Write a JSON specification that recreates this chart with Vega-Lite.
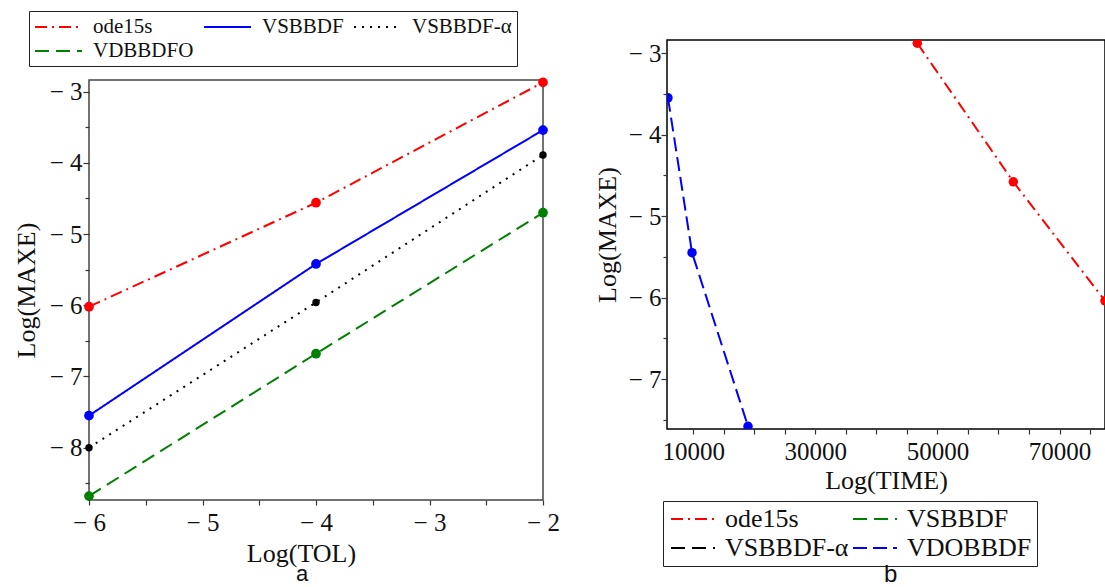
{
  "$schema": "https://vega.github.io/schema/vega-lite/v6.json",
  "background": "white",
  "padding": {"left": 12, "top": 10, "right": 0, "bottom": 0},
  "spacing": 32,
  "config": {
    "font": "Liberation Serif",
    "view": {"stroke": "#444", "strokeWidth": 1.5},
    "axis": {
      "labelFont": "Liberation Serif", "titleFont": "Liberation Serif",
      "labelFontSize": 25, "titleFontSize": 26, "titleFontWeight": "normal",
      "labelColor": "#111", "titleColor": "#111", "domain": false, "grid": false,
      "tickColor": "#333", "tickWidth": 1.2, "labelOverlap": false, "labelFlush": false
    },
    "legend": {
      "orient": "none", "direction": "horizontal", "title": null, "symbolStrokeWidth": 2,
      "labelFont": "Liberation Serif", "labelColor": "#111", "rowPadding": 3, "padding": 5,
      "strokeColor": "#222", "fillColor": "white", "symbolSize": 400
    },
    "title": {"font": "Liberation Sans", "fontSize": 24, "fontWeight": "normal", "color": "#111"}
  },
  "resolve": {"scale": {"color": "independent", "strokeDash": "independent", "fill": "independent", "x": "independent", "y": "independent"}},
  "datasets": {
    "tolData": [
      {"tol": -6, "maxe": -6.02, "method": "ode15s"},
      {"tol": -4, "maxe": -4.56, "method": "ode15s"},
      {"tol": -2, "maxe": -2.87, "method": "ode15s"},
      {"tol": -6, "maxe": -7.55, "method": "VSBBDF"},
      {"tol": -4, "maxe": -5.42, "method": "VSBBDF"},
      {"tol": -2, "maxe": -3.54, "method": "VSBBDF"},
      {"tol": -6, "maxe": -8.0, "method": "VSBBDF-α"},
      {"tol": -4, "maxe": -5.96, "method": "VSBBDF-α"},
      {"tol": -2, "maxe": -3.89, "method": "VSBBDF-α"},
      {"tol": -6, "maxe": -8.68, "method": "VDBBDFO"},
      {"tol": -4, "maxe": -6.68, "method": "VDBBDFO"},
      {"tol": -2, "maxe": -4.70, "method": "VDBBDFO"}
    ],
    "timeData": [
      {"time": 46700, "err": -2.88, "solver": "ode15s"},
      {"time": 62430, "err": -4.58, "solver": "ode15s"},
      {"time": 77450, "err": -6.04, "solver": "ode15s"},
      {"time": 5860, "err": -3.55, "solver": "VDOBBDF"},
      {"time": 9800, "err": -5.45, "solver": "VDOBBDF"},
      {"time": 18970, "err": -7.58, "solver": "VDOBBDF"}
    ]
  },
  "hconcat": [
    {
      "spacing": 9,
      "resolve": {"scale": {"color": "independent", "strokeDash": "independent", "fill": "independent", "x": "independent", "y": "independent"}},
      "vconcat": [
        {
          "width": 454,
          "height": 1,
          "view": {"stroke": null},
          "data": {"name": "tolData"},
          "transform": [{"filter": "false"}],
          "mark": {"type": "line", "strokeWidth": 2},
          "encoding": {
            "x": {"field": "tol", "type": "quantitative", "axis": null, "scale": {"domain": [-6, -2]}},
            "y": {"field": "maxe", "type": "quantitative", "axis": null, "scale": {"domain": [-9, -2]}},
            "color": {"field": "method", "type": "nominal",
              "scale": {"domain": ["ode15s", "VSBBDF", "VSBBDF-α", "VDBBDFO"], "range": ["#ff0000", "#0000ff", "#000000", "#008000"]},
              "legend": {"legendX": -60, "legendY": -29, "columns": 3, "symbolType": "M-2.35,0H2.35", "symbolOffset": 13.5,
                "labelFontSize": 21, "labelOffset": 23.5, "columnPadding": 6}},
            "strokeDash": {"field": "method", "type": "nominal",
              "scale": {"domain": ["ode15s", "VSBBDF", "VSBBDF-α", "VDBBDFO"], "range": [[12, 5, 2, 5], [1, 0], [2, 6], [14, 7]]},
              "legend": {"legendX": -60, "legendY": -29, "columns": 3, "symbolType": "M-2.35,0H2.35", "symbolOffset": 13.5,
                "labelFontSize": 21, "labelOffset": 23.5, "columnPadding": 6}}
          }
        },
        {
          "width": 454,
          "height": 420,
          "title": {"text": "a", "orient": "bottom", "frame": "group", "anchor": "middle", "dx": -14, "offset": -2, "fontSize": 22},
          "data": {"name": "tolData"},
          "encoding": {
            "x": {"field": "tol", "type": "quantitative",
              "scale": {"domain": [-6, -2], "nice": false, "zero": false},
              "axis": {"title": "Log(TOL)", "values": [-6, -5.5, -5, -4.5, -4, -3.5, -3, -2.5, -2],
                "labelExpr": "datum.value % 1 === 0 ? '− ' + abs(datum.value) : ''",
                "tickSize": 5, "labelPadding": 5, "titlePadding": 5, "titleX": 212}},
            "y": {"field": "maxe", "type": "quantitative",
              "scale": {"domain": [-8.735, -2.836], "nice": false, "zero": false},
              "axis": {"title": "Log(MAXE)", "values": [-8.5, -8, -7.5, -7, -6.5, -6, -5.5, -5, -4.5, -4, -3.5, -3],
                "labelExpr": "datum.value % 1 === 0 ? '− ' + abs(datum.value) : ''",
                "tickSize": {"condition": {"test": "datum.value % 1 === 0", "value": 6}, "value": 4},
                "labelPadding": 1, "titlePadding": 10}}
          },
          "layer": [
            {
              "mark": {"type": "line", "strokeWidth": 2},
              "encoding": {
                "color": {"field": "method", "type": "nominal",
                  "scale": {"domain": ["ode15s", "VSBBDF", "VSBBDF-α", "VDBBDFO"], "range": ["#ff0000", "#0000ff", "#000000", "#008000"]},
                  "legend": null},
                "strokeDash": {"field": "method", "type": "nominal",
                  "scale": {"domain": ["ode15s", "VSBBDF", "VSBBDF-α", "VDBBDFO"], "range": [[12, 5, 2, 5], [1, 0], [2, 6], [14, 7]]},
                  "legend": null}
              }
            },
            {
              "transform": [{"filter": "datum.method !== 'VSBBDF-α'"}],
              "mark": {"type": "point", "filled": true, "opacity": 1, "size": 95},
              "encoding": {
                "fill": {"field": "method", "type": "nominal",
                  "scale": {"domain": ["ode15s", "VSBBDF", "VSBBDF-α", "VDBBDFO"], "range": ["#ff0000", "#0000ff", "#000000", "#008000"]},
                  "legend": null}
              }
            },
            {
              "transform": [{"filter": "datum.method === 'VSBBDF-α'"}],
              "mark": {"type": "point", "filled": true, "opacity": 1, "size": 55},
              "encoding": {
                "fill": {"field": "method", "type": "nominal",
                  "scale": {"domain": ["ode15s", "VSBBDF", "VSBBDF-α", "VDBBDFO"], "range": ["#ff0000", "#0000ff", "#000000", "#008000"]},
                  "legend": null}
              }
            }
          ]
        }
      ]
    },
    {
      "title": {"text": "b", "orient": "bottom", "frame": "bounds", "anchor": "middle", "dx": 41, "offset": -4},
      "vconcat": [
        {
          "width": 438,
          "height": 389,
          "view": {"stroke": "#000"},
          "data": {"name": "timeData"},
          "encoding": {
            "x": {"field": "time", "type": "quantitative",
              "scale": {"domain": [5700, 77450], "nice": false, "zero": false},
              "axis": {"title": "Log(TIME)", "values": [10000, 15000, 20000, 25000, 30000, 35000, 40000, 45000, 50000, 55000, 60000, 65000, 70000, 75000],
                "labelExpr": "(datum.value - 10000) % 20000 === 0 ? format(datum.value, 'd') : ''",
                "tickSize": 5, "labelPadding": 5, "titlePadding": 3}},
            "y": {"field": "err", "type": "quantitative",
              "scale": {"domain": [-7.613, -2.84], "nice": false, "zero": false},
              "axis": {"title": "Log(MAXE)", "values": [-7.5, -7, -6.5, -6, -5.5, -5, -4.5, -4, -3.5, -3],
                "labelExpr": "datum.value % 1 === 0 ? '− ' + abs(datum.value) : ''",
                "tickSize": {"condition": {"test": "datum.value % 1 === 0", "value": 6}, "value": 4},
                "labelPadding": 0, "titlePadding": 8}}
          },
          "layer": [
            {
              "mark": {"type": "line", "strokeWidth": 2, "clip": true},
              "encoding": {
                "color": {"field": "solver", "type": "nominal",
                  "scale": {"domain": ["ode15s", "VSBBDF", "VSBBDF-α", "VDOBBDF"], "range": ["#ff0000", "#008000", "#000000", "#0000ff"]},
                  "legend": {"legendX": -4, "legendY": 461, "columns": 2, "symbolType": "M-2.2,0H2.2", "symbolOffset": 12,
                    "labelFontSize": 26, "labelOffset": 19, "columnPadding": 0}},
                "strokeDash": {"field": "solver", "type": "nominal",
                  "scale": {"domain": ["ode15s", "VSBBDF", "VSBBDF-α", "VDOBBDF"], "range": [[12, 5, 2, 5], [14, 7], [14, 7], [14, 6]]},
                  "legend": {"legendX": -4, "legendY": 461, "columns": 2, "symbolType": "M-2.2,0H2.2", "symbolOffset": 12,
                    "labelFontSize": 26, "labelOffset": 19, "columnPadding": 0}}
              }
            },
            {
              "mark": {"type": "point", "filled": true, "opacity": 1, "size": 90, "clip": true},
              "encoding": {
                "fill": {"field": "solver", "type": "nominal",
                  "scale": {"domain": ["ode15s", "VSBBDF", "VSBBDF-α", "VDOBBDF"], "range": ["#ff0000", "#008000", "#000000", "#0000ff"]},
                  "legend": null}
              }
            }
          ]
        }
      ]
    }
  ]
}
